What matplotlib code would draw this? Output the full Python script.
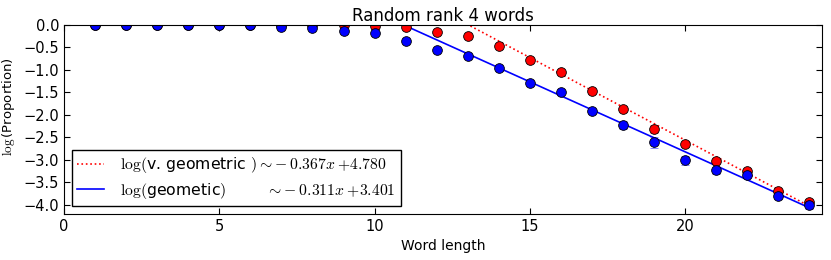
import numpy as np
import matplotlib
matplotlib.use('Agg')
import matplotlib.pyplot as plt

rc = {'font.size': 10.5, 'mathtext.fontset': 'cm',
      'xtick.direction': 'in', 'ytick.direction': 'in',
      'xtick.top': True, 'ytick.right': True,
      'xtick.major.size': 4, 'ytick.major.size': 4}
plt.rcParams.update(rc)

lengths = np.arange(1, 25)

# log proportions
geo_mean = [0.0, 0.0, 0.0, 0.0, -0.01, -0.01, -0.05, -0.06, -0.14, -0.18,
            -0.35, -0.56, -0.69, -0.96, -1.30, -1.50, -1.91, -2.23, -2.61,
            -3.01, -3.23, -3.34, -3.79, -4.00]
geo_err = [0.0, 0.0, 0.0, 0.0, 0.0, 0.0, 0.0, 0.0, 0.0, 0.0,
           0.0, 0.01, 0.01, 0.01, 0.02, 0.02, 0.04, 0.09, 0.12,
           0.1, 0.08, 0.05, 0.07, 0.08]
vgeo_mean = [0.0, 0.0, 0.0, 0.0, 0.0, 0.0, 0.0, 0.0, -0.01, -0.03,
             -0.05, -0.16, -0.24, -0.46, -0.78, -1.04, -1.47, -1.86, -2.32,
             -2.65, -3.02, -3.24, -3.69, -3.93]
vgeo_err = [0.0, 0.0, 0.0, 0.0, 0.0, 0.0, 0.0, 0.0, 0.0, 0.0,
            0.0, 0.01, 0.01, 0.01, 0.01, 0.02, 0.03, 0.07, 0.09,
            0.07, 0.05, 0.05, 0.05, 0.06]

# fitted slopes / intercepts (from the legend)
vgeo_fit = (-0.367, 4.780)
geo_fit = (-0.311, 3.401)
fit_start = 11

fig, ax = plt.subplots(figsize=(8.31, 2.6), dpi=100)
fig.subplots_adjust(left=0.077, right=0.989, bottom=0.177, top=0.904)

xf = np.arange(fit_start, 25)
ax.plot(xf, vgeo_fit[0] * xf + vgeo_fit[1], 'r:', lw=1.2,
        label=r'$\log($v. geometric $)\sim\!-0.367x+\!4.780$')
ax.plot(xf, geo_fit[0] * xf + geo_fit[1], 'b-', lw=1.2,
        label=r'$\log($geometic$)$' + '        ' + r'$\sim\!-0.311x+\!3.401$')

ax.errorbar(lengths, vgeo_mean, yerr=vgeo_err, fmt='o', color='r',
            mec='k', mew=0.6, ms=7, ecolor=(1, 0, 0, 0.55), capsize=3,
            elinewidth=1.2)
ax.errorbar(lengths, geo_mean, yerr=geo_err, fmt='o', color='b',
            mec='k', mew=0.6, ms=7, ecolor=(0, 0, 1, 0.55), capsize=3,
            elinewidth=1.2)

ax.set_xlim(0, 24.4)
ax.set_ylim(-4.2, 0)
ax.set_xticks([0, 5, 10, 15, 20])
ax.set_yticks(np.arange(-4.0, 0.01, 0.5))
ax.set_xlabel('Word length', fontsize=10)
ax.set_ylabel(r'$\log$(Proportion)', fontsize=9.5)
ax.yaxis.set_label_coords(-0.062, 0.57)
ax.set_title('Random rank 4 words', fontsize=12, pad=3)
leg = ax.legend(loc='lower left', fontsize=11.3, fancybox=False,
                borderaxespad=0.5, handlelength=1.7, handletextpad=1.0,
                borderpad=0.35, labelspacing=0.35)
leg.get_frame().set_edgecolor('k')
leg.get_frame().set_alpha(1)

plt.savefig('out.png', dpi=100)
